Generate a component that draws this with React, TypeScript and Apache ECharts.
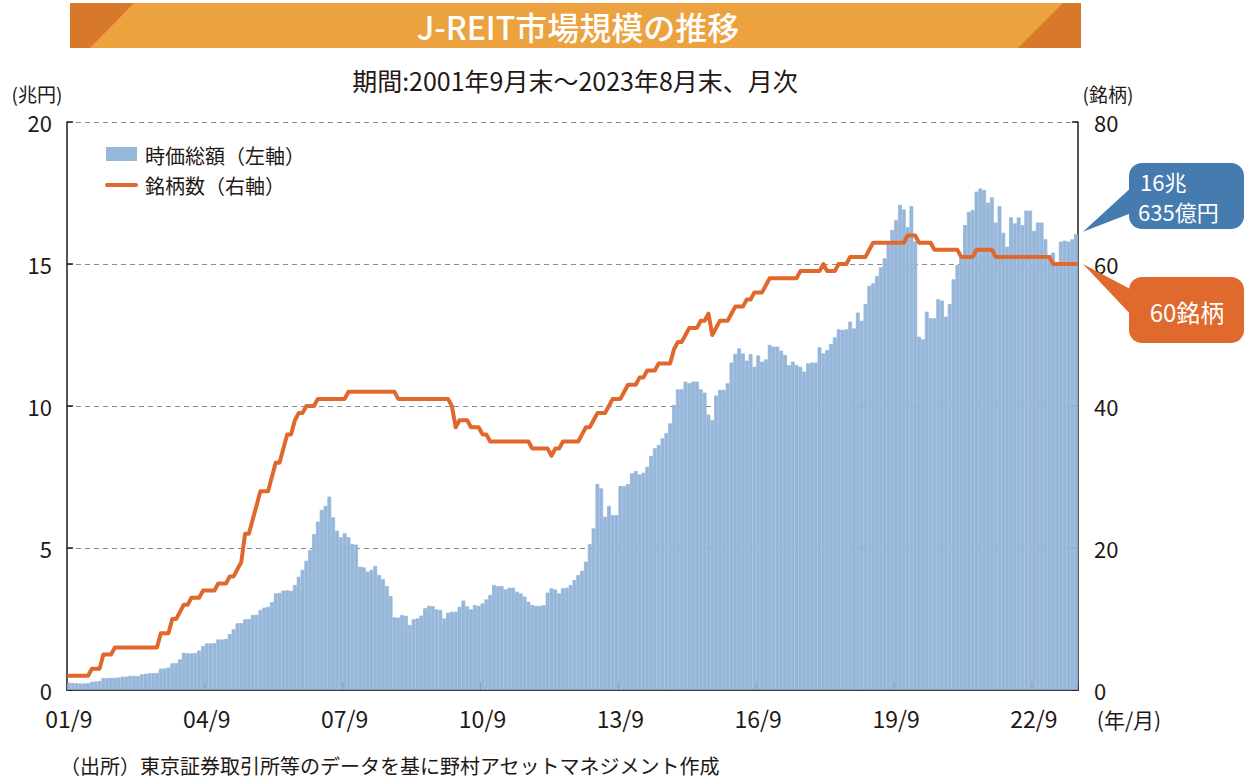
import React, { useEffect, useRef } from "react";
import * as echarts from "echarts";

const FONT = "'Noto Sans CJK JP', 'Noto Sans', sans-serif";
const TEXT = "#231815";
const BAR_COLOR = "#96b6da";
const LINE_COLOR = "#e0682c";
const BLUE_BOX = "#457bae";
const ORANGE_BOX = "#e06a2e";

const title = "J-REIT市場規模の推移";
const subtitle = "期間:2001年9月末～2023年8月末、月次";
const leftAxisName = "(兆円)";
const rightAxisName = "(銘柄)";
const xAxisUnit = "(年/月)";
const sourceNote = "（出所）東京証券取引所等のデータを基に野村アセットマネジメント作成";
const seriesNames = ["時価総額（左軸）", "銘柄数（右軸）"];
const capCallout = ["16兆", "635億円"];
const countCallout = "60銘柄";

// Monthly categories, 2001/9 .. 2023/8
const startYear = 2001;
const startMonth = 9;
const monthCount = 264;
const months: string[] = [];
for (let k = 0; k < monthCount; k++) {
  const m0 = startMonth - 1 + k;
  const y = startYear + Math.floor(m0 / 12);
  const m = (m0 % 12) + 1;
  months.push(String(y % 100).padStart(2, "0") + "/" + m);
}

// 時価総額 (兆円), monthly, Sep..Aug per row
const marketCap = [
  0.26, 0.25, 0.24, 0.23, 0.23, 0.24, 0.29, 0.30, 0.32, 0.42, 0.42, 0.43,
  0.43, 0.44, 0.47, 0.47, 0.50, 0.50, 0.49, 0.55, 0.57, 0.59, 0.59, 0.60,
  0.75, 0.76, 0.79, 0.94, 0.95, 1.08, 1.31, 1.29, 1.29, 1.30, 1.39, 1.55,
  1.64, 1.64, 1.65, 1.78, 1.78, 1.80, 1.97, 2.14, 2.35, 2.36, 2.49, 2.50,
  2.64, 2.65, 2.82, 2.90, 2.93, 3.09, 3.40, 3.42, 3.50, 3.51, 3.49, 3.70,
  3.99, 4.23, 4.55, 4.93, 5.49, 5.93, 6.34, 6.48, 6.81, 6.08, 5.61, 5.38,
  5.52, 5.38, 5.14, 5.12, 4.34, 4.32, 4.17, 4.23, 4.37, 4.05, 3.90, 3.66,
  3.31, 2.56, 2.55, 2.64, 2.61, 2.29, 2.49, 2.52, 2.62, 2.88, 2.96, 2.95,
  2.84, 2.82, 2.52, 2.72, 2.76, 2.76, 2.93, 3.15, 2.95, 2.84, 2.99, 2.96,
  3.05, 3.19, 3.35, 3.70, 3.66, 3.66, 3.54, 3.60, 3.60, 3.46, 3.40, 3.29,
  3.11, 2.99, 2.96, 2.96, 2.99, 3.43, 3.58, 3.54, 3.40, 3.58, 3.60, 3.70,
  3.87, 4.05, 4.20, 4.52, 5.14, 5.69, 7.25, 7.10, 6.10, 6.48, 6.16, 6.16,
  7.18, 7.18, 7.25, 7.63, 7.71, 7.59, 7.65, 7.86, 8.24, 8.51, 8.63, 8.86,
  9.05, 9.39, 10.04, 10.59, 10.59, 10.86, 10.80, 10.86, 10.86, 10.59, 10.47, 9.70,
  9.50, 10.37, 10.57, 10.57, 10.80, 11.53, 11.84, 12.03, 11.85, 11.60, 11.83, 11.38,
  11.78, 11.56, 11.64, 12.15, 12.09, 12.09, 11.95, 11.80, 11.44, 11.56, 11.44, 11.38,
  11.21, 11.50, 11.53, 11.53, 12.07, 11.85, 11.97, 12.18, 12.42, 12.70, 12.68, 12.70,
  12.97, 12.73, 13.29, 13.00, 13.59, 14.23, 14.32, 14.58, 14.88, 15.20, 15.79, 16.20,
  16.55, 17.08, 16.92, 16.30, 17.04, 15.80, 12.44, 12.35, 13.32, 13.09, 13.09, 13.76,
  13.71, 13.15, 13.59, 14.46, 14.96, 15.23, 16.37, 16.84, 16.90, 17.55, 17.66, 17.60,
  17.16, 17.35, 16.46, 17.04, 16.10, 15.61, 16.64, 16.43, 16.64, 16.37, 16.88, 16.88,
  16.17, 16.46, 16.46, 15.87, 15.32, 15.40, 15.08, 15.79, 15.82, 15.79, 15.87, 16.0635,
];

// 銘柄数, monthly, Sep..Aug per row
const reitCount = [
  2, 2, 2, 2, 2, 2, 3, 3, 3, 5, 5, 5,
  6, 6, 6, 6, 6, 6, 6, 6, 6, 6, 6, 6,
  8, 8, 8, 10, 10, 11, 12, 12, 13, 13, 13, 14,
  14, 14, 14, 15, 15, 15, 16, 16, 17, 18, 22, 22,
  24, 26, 28, 28, 28, 30, 32, 32, 34, 36, 36, 38,
  39, 39, 40, 40, 40, 41, 41, 41, 41, 41, 41, 41,
  41, 42, 42, 42, 42, 42, 42, 42, 42, 42, 42, 42,
  42, 42, 41, 41, 41, 41, 41, 41, 41, 41, 41, 41,
  41, 41, 41, 41, 40, 37, 38, 38, 38, 37, 37, 37,
  36, 36, 35, 35, 35, 35, 35, 35, 35, 35, 35, 35,
  35, 34, 34, 34, 34, 34, 33, 34, 34, 35, 35, 35,
  35, 35, 36, 37, 37, 38, 39, 39, 39, 40, 41, 41,
  41, 42, 43, 43, 43, 44, 44, 45, 45, 45, 46, 46,
  46, 46, 48, 49, 49, 50, 51, 51, 51, 52, 52, 53,
  50, 51, 52, 52, 52, 53, 54, 54, 54, 55, 55, 56,
  56, 56, 57, 58, 58, 58, 58, 58, 58, 58, 58, 59,
  59, 59, 59, 59, 59, 60, 59, 59, 59, 60, 60, 60,
  61, 61, 61, 61, 61, 62, 63, 63, 63, 63, 63, 63,
  63, 63, 63, 64, 64, 64, 63, 63, 63, 63, 62, 62,
  62, 62, 62, 62, 62, 61, 61, 61, 61, 62, 62, 62,
  62, 62, 61, 61, 61, 61, 61, 61, 61, 61, 61, 61,
  61, 61, 61, 61, 61, 60, 60, 60, 60, 60, 60, 60,
];

const leftAxis = { min: 0, max: 20, interval: 5 };
const rightAxis = { min: 0, max: 80, interval: 20 };
const labelEvery = 36;

const GRID = { left: 67, right: 176, top: 122, bottom: 88 };

export default function App() {
  const ref = useRef<HTMLDivElement | null>(null);

  useEffect(() => {
    document.body.style.margin = "0";
    if (!ref.current) return;
    const chart = echarts.init(ref.current, undefined, { renderer: "svg" });

    const option: any = {
      animation: false,
      backgroundColor: "#ffffff",
      textStyle: { fontFamily: FONT, color: TEXT },
      grid: { ...GRID, containLabel: false },
      xAxis: {
        type: "category",
        data: months,
        boundaryGap: true,
        axisLine: { show: true, lineStyle: { color: "#333333", width: 2 } },
        axisTick: {
          show: true,
          inside: true,
          length: 8,
          interval: labelEvery - 1,
          lineStyle: { color: "#333333", width: 1.5 },
        },
        axisLabel: {
          interval: labelEvery - 1,
          fontFamily: FONT,
          fontSize: 23,
          lineHeight: 23,
          color: TEXT,
          margin: 16,
        },
        splitLine: { show: false },
      },
      yAxis: [
        {
          type: "value",
          ...leftAxis,
          position: "left",
          axisLine: { show: true, lineStyle: { color: TEXT, width: 1.5 } },
          axisTick: { show: true, inside: true, length: 6, lineStyle: { color: TEXT, width: 1.5 } },
          axisLabel: { fontFamily: FONT, fontSize: 22, lineHeight: 20, color: TEXT, margin: 15 },
          splitLine: { show: true, lineStyle: { color: "#8c8c8c", type: [5, 4], width: 1 } },
        },
        {
          type: "value",
          ...rightAxis,
          position: "right",
          axisLine: { show: true, lineStyle: { color: TEXT, width: 1.5 } },
          axisTick: { show: true, inside: true, length: 6, lineStyle: { color: TEXT, width: 1.5 } },
          axisLabel: { fontFamily: FONT, fontSize: 22, lineHeight: 20, color: TEXT, margin: 16 },
          splitLine: { show: false },
        },
      ],
      series: [
        {
          name: seriesNames[0],
          type: "bar",
          yAxisIndex: 0,
          data: marketCap,
          barCategoryGap: "0%",
          itemStyle: { color: BAR_COLOR, borderColor: BAR_COLOR, borderWidth: 0.8 },
          z: 2,
        },
        {
          name: seriesNames[1],
          type: "line",
          yAxisIndex: 1,
          data: reitCount,
          symbol: "none",
          showSymbol: false,
          lineStyle: { color: LINE_COLOR, width: 4, join: "round", cap: "round" },
          itemStyle: { color: LINE_COLOR },
          z: 3,
        },
      ],
    };
    chart.setOption(option);

    const last = monthCount - 1;
    const pCap = chart.convertToPixel({ xAxisIndex: 0, yAxisIndex: 0 }, [last, marketCap[last]]) as number[];
    const pCnt = chart.convertToPixel({ xAxisIndex: 0, yAxisIndex: 1 }, [last, reitCount[last]]) as number[];
    const plotRight = 1254 - GRID.right;
    const tipX = plotRight + 5;
    const capY = pCap[1];
    const cntY = pCnt[1];

    const graphics: any[] = [
      { type: "rect", shape: { x: 70, y: 3, width: 1011, height: 45 }, style: { fill: "#eca33f" } },
      { type: "polygon", shape: { points: [[70, 3], [134, 3], [90, 48], [70, 48]] }, style: { fill: "#d8782b" } },
      { type: "polygon", shape: { points: [[1063, 3], [1081, 3], [1081, 48], [1018, 48]] }, style: { fill: "#d8782b" } },
      {
        type: "text",
        x: 578,
        y: 26,
        style: { text: title, fill: "#ffffff", fontFamily: FONT, fontSize: 32, fontWeight: 500, align: "center", verticalAlign: "middle" },
      },
      {
        type: "text",
        x: 575,
        y: 80,
        style: { text: subtitle, fill: TEXT, fontFamily: FONT, fontSize: 25, align: "center", verticalAlign: "middle" },
      },
      {
        type: "text",
        x: 37,
        y: 93,
        style: { text: leftAxisName, fill: TEXT, fontFamily: FONT, fontSize: 19, lineHeight: 19, align: "center", verticalAlign: "middle" },
      },
      {
        type: "text",
        x: 1108,
        y: 93,
        style: { text: rightAxisName, fill: TEXT, fontFamily: FONT, fontSize: 19, lineHeight: 19, align: "center", verticalAlign: "middle" },
      },
      {
        type: "text",
        x: 1129,
        y: 719,
        style: { text: xAxisUnit, fill: TEXT, fontFamily: FONT, fontSize: 21, align: "center", verticalAlign: "middle" },
      },
      {
        type: "text",
        x: 60,
        y: 765,
        style: { text: sourceNote, fill: TEXT, fontFamily: FONT, fontSize: 20, align: "left", verticalAlign: "middle" },
      },
      // legend
      { type: "rect", shape: { x: 106, y: 147, width: 31, height: 14 }, style: { fill: BAR_COLOR }, z: 10 },
      {
        type: "text",
        x: 145,
        y: 155,
        style: { text: seriesNames[0], fill: TEXT, fontFamily: FONT, fontSize: 20, align: "left", verticalAlign: "middle" },
        z: 10,
      },
      {
        type: "line",
        shape: { x1: 107, y1: 185, x2: 136, y2: 185 },
        style: { stroke: LINE_COLOR, lineWidth: 4, lineCap: "round" },
        z: 10,
      },
      {
        type: "text",
        x: 145,
        y: 185,
        style: { text: seriesNames[1], fill: TEXT, fontFamily: FONT, fontSize: 20, align: "left", verticalAlign: "middle" },
        z: 10,
      },
      // blue callout
      {
        type: "polygon",
        shape: { points: [[tipX, capY - 2], [1134, 185], [1134, 212]] },
        style: { fill: BLUE_BOX },
        z: 10,
      },
      {
        type: "rect",
        shape: { x: 1129, y: 163, width: 115, height: 66, r: 13 },
        style: { fill: BLUE_BOX },
        z: 10,
      },
      {
        type: "text",
        x: 1140,
        y: 181,
        style: { text: capCallout[0], fill: "#ffffff", fontFamily: FONT, fontSize: 22, align: "left", verticalAlign: "middle" },
        z: 11,
      },
      {
        type: "text",
        x: 1138,
        y: 211,
        style: { text: capCallout[1], fill: "#ffffff", fontFamily: FONT, fontSize: 22, align: "left", verticalAlign: "middle" },
        z: 11,
      },
      // orange callout
      {
        type: "polygon",
        shape: { points: [[tipX, cntY], [1134, 291], [1134, 318]] },
        style: { fill: ORANGE_BOX },
        z: 10,
      },
      {
        type: "rect",
        shape: { x: 1129, y: 277, width: 115, height: 66, r: 13 },
        style: { fill: ORANGE_BOX },
        z: 10,
      },
      {
        type: "text",
        x: 1187,
        y: 311,
        style: { text: countCallout, fill: "#ffffff", fontFamily: FONT, fontSize: 24, align: "center", verticalAlign: "middle" },
        z: 11,
      },
    ];
    chart.setOption({ graphic: graphics });

    return () => {
      chart.dispose();
    };
  }, []);

  return (
    <div
      ref={ref}
      style={{ position: "absolute", left: 0, top: 0, width: 1254, height: 778, background: "#fff" }}
    />
  );
}
